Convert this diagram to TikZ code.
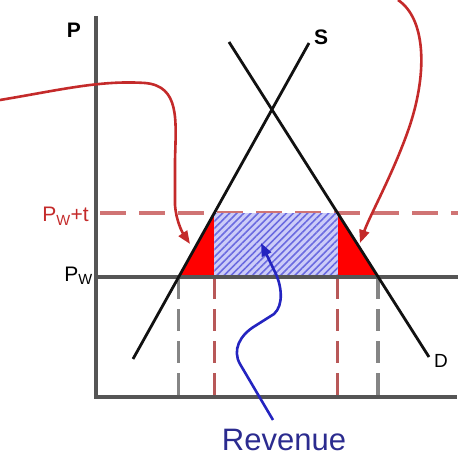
\documentclass[tikz,border=0pt]{standalone}
\usepackage{fontspec}
\setmainfont{Liberation Sans}
\usepackage{xcolor}
\definecolor{cAxis}{HTML}{555555}
\definecolor{cCurve}{HTML}{111111}
\definecolor{cRed}{HTML}{C42A2A}
\definecolor{cRedDash}{HTML}{D07474}
\definecolor{cRedLine}{HTML}{B85858}
\definecolor{cGrayDash}{HTML}{858585}
\definecolor{cLoss}{HTML}{FF0000}
\definecolor{cHatchBg}{HTML}{CCCCF8}
\definecolor{cHatch}{HTML}{6A6AE0}
\definecolor{cBlue}{HTML}{2424C0}
\definecolor{cText}{HTML}{2B2B8F}
\usepackage{tikz}
\usetikzlibrary{arrows.meta,intersections,patterns.meta}
\tikzset{
  axis-line/.style={line width=3.5pt,draw=cAxis},
  curve-line/.style={line width=2.8pt,draw=cCurve},
  price-line/.style={line width=3.2pt,draw=cAxis},
  dash-red/.style={line width=4.5pt,draw=cRedDash,dash pattern=on 26pt off 13pt},
  dash-red-v/.style={line width=3.5pt,draw=cRedLine,dash pattern=on 22pt off 10pt},
  dash-gray-v/.style={line width=3.5pt,draw=cGrayDash,dash pattern=on 22pt off 10pt},
  area-loss/.style={fill=cLoss},
  area-rev/.style={fill=cHatchBg},
  area-hatch/.style={pattern={Lines[angle=45,distance=5pt,line width=1.6pt]},pattern color=cHatch},
  arrow-red/.style={-{Triangle[length=13pt,width=10pt]},line width=2.6pt,draw=cRed},
  arrow-blue/.style={-{Triangle[length=13pt,width=10pt]},line width=2.6pt,draw=cBlue},
  node-lbl/.style={inner sep=0pt,font=\fontsize{21}{24}\selectfont},
}

\begin{document}
\begin{tikzpicture}[x=1pt,y=-1pt]
  \useasboundingbox (0,0) rectangle (458,457);

  % supply / demand end points
  \coordinate (s1) at (133,359);
  \coordinate (s2) at (309,43);
  \coordinate (d1) at (229,42);
  \coordinate (d2) at (429,357);

  % invisible helper paths for the crossings
  \path[name path=supply] (s1) -- (s2);
  \path[name path=demand] (d1) -- (d2);
  \path[name path=pw] (96,277) -- (458,277);
  \path[name path=pwt] (96,213) -- (458,213);
  \path[name intersections={of=supply and pw,by=sw}];
  \path[name intersections={of=demand and pw,by=dw}];
  \path[name intersections={of=supply and pwt,by=st}];
  \path[name intersections={of=demand and pwt,by=dt}];

  % world price plus tariff
  \draw[dash-red] (100,213) -- (458,213);

  % areas
  \fill[area-loss] (sw) -- (st) -- (st |- sw) -- cycle;
  \fill[area-loss] (dt) -- (dw) -- (dt |- dw) -- cycle;
  \fill[area-rev] (st) rectangle (dt |- sw);
  \fill[area-hatch] (st) rectangle (dt |- sw);

  % quantity drop lines
  \draw[dash-gray-v] (sw) -- (sw |- 0,397);
  \draw[dash-gray-v] (dw) -- (dw |- 0,397);
  \draw[dash-red-v] (st |- sw) -- (st |- 0,397);
  \draw[dash-red-v] (dt |- sw) -- (dt |- 0,397);

  % axes and world price
  \draw[axis-line] (96,16) -- (96,397) -- (457,397);
  \draw[price-line] (96,277) -- (458,277);

  % supply and demand
  \draw[curve-line] (s1) -- (s2);
  \draw[curve-line] (d1) -- (d2);

  % labels
  \node[node-lbl,font=\bfseries\fontsize{21}{24}\selectfont] (lblP) at (74,30) {P};
  \node[node-lbl,font=\bfseries\fontsize{21}{24}\selectfont] (lblS) at (321,37) {S};
  \node[node-lbl,font=\fontsize{19}{22}\selectfont] (lblD) at (441,361) {D};
  \node[node-lbl,anchor=base east] (lblPw) at (93,281) {P\textsubscript{W}};
  \node[node-lbl,anchor=base east,text=cRed] (lblPwt) at (89,222) {P\textsubscript{W}+t};
  \node[node-lbl,font=\fontsize{31}{34}\selectfont,text=cText] (lblRev) at (284,440) {Revenue};

  % pointers
  \coordinate (tipL) at (190,244);
  \coordinate (tipR) at (360,243);
  \coordinate (tipB) at (261,243);
  \draw[arrow-red] (0,100) .. controls (60,90) and (100,80) .. (145,83)
    .. controls (180,86) and (176,120) .. (175,160) -- (175,205)
    .. controls (176,220) and (182,232) .. (tipL);
  \draw[arrow-red] (398,0) .. controls (425,18) and (428,70) .. (410,125)
    .. controls (395,170) and (370,215) .. (tipR);
  \draw[arrow-blue] (lblRev.north -| 273,0) ++(0,-9) -- (240,364)
    .. controls (232,350) and (240,335) .. (255,326) -- (274,314)
    .. controls (284,305) and (282,285) .. (274,270) -- (tipB);
\end{tikzpicture}
\end{document}
